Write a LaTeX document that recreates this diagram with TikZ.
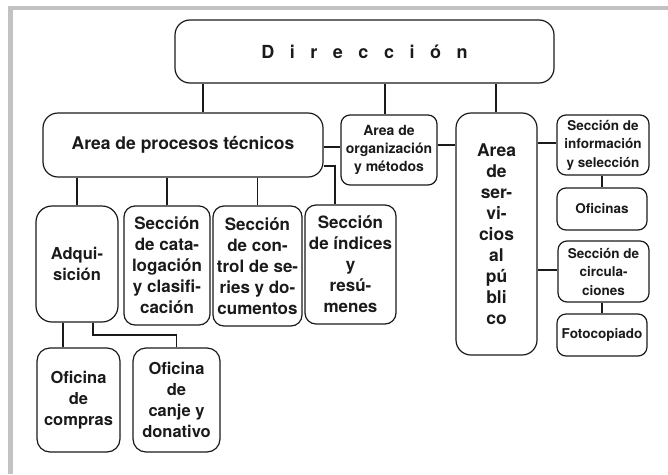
\documentclass[tikz,border=0pt]{standalone}
\usepackage{fontspec}
\setmainfont{TeX Gyre Heros}
\usetikzlibrary{positioning}
\definecolor{orgInk}{HTML}{1A1A1A}
\definecolor{orgFrame}{HTML}{C2C2C2}
\newcommand\dirsp{\hspace{15.5pt}}
\tikzset{
  orgbox/.style={rectangle,draw=orgInk,line width=1.2pt,rounded corners=11pt,
    inner sep=1pt,align=center,text=orgInk},
  orghead/.style={orgbox,rounded corners=15pt,minimum width=379pt,minimum height=63pt,
    font=\fontsize{18}{22}\selectfont\bfseries},
  orgarea/.style={orgbox,rounded corners=15pt,font=\fontsize{17.5}{21}\selectfont\bfseries},
  orgsect/.style={orgbox,font=\fontsize{17}{21}\selectfont\bfseries},
  orgoffice/.style={orgbox,rounded corners=13pt,font=\fontsize{16.5}{21}\selectfont\bfseries},
  orgsmall/.style={orgbox,rounded corners=9pt,font=\fontsize{13.5}{18.5}\selectfont\bfseries},
  link/.style={draw=orgInk,line width=1.2pt}
}

\begin{document}
\begin{tikzpicture}[x=1pt,y=-1pt]
  \useasboundingbox (0,0) rectangle (668,474);
  \fill[orgFrame] (8,6) rectangle (668,10);
  \fill[orgFrame] (8,6) rectangle (13,474);

  \node[orghead] (dir) at (364.5,51.5) {D\dirsp i\dirsp r\dirsp e\dirsp c\dirsp c\dirsp i\dirsp ó\dirsp n};
  \node[orgarea, minimum width=280pt, minimum height=64pt] (proc) at (183,145) {Area de procesos técnicos};
  \node[orgsmall, font=\fontsize{14}{18}\selectfont\bfseries, minimum width=96pt, minimum height=70pt] (org) at (389,150) {Area de\\organización\\y métodos};
  \node[orgarea, minimum width=81pt, minimum height=242pt] (serv) at (496.5,234) {Area\\de\\ser-\\vi-\\cios\\al\\pú\\bli\\co};
  \node[orgsmall, minimum width=92pt, minimum height=60pt] (info) at (603,145) {Sección de\\información\\y selección};
  \node[orgsmall, minimum width=90pt, minimum height=42pt] (ofic) at (602,209) {Oficinas};
  \node[orgsmall, minimum width=91pt, minimum height=61pt] (circ) at (603.5,271.5) {Sección de\\circula-\\ciones};
  \node[orgsmall, minimum width=90pt, minimum height=42pt] (foto) at (602,335) {Fotocopiado};

  \node[orgsect, rounded corners=16pt, font=\fontsize{16.5}{21}\selectfont\bfseries, minimum width=82pt, minimum height=116pt] (adq) at (77,264) {Adqui-\\sición};
  \node[orgsect, minimum width=86pt, minimum height=119pt] (cat) at (167,265.5) {Sección\\de cata-\\logación\\y clasifi-\\cación};
  \node[orgsect, minimum width=89pt, minimum height=120pt] (ctl) at (257.5,266) {Sección\\de con-\\trol de se-\\ries y do-\\cumentos};
  \node[orgsect, minimum width=91pt, minimum height=119pt] (idx) at (350.5,264.5) {Sección\\de índices\\y\\resú-\\menes};
  \node[orgoffice, minimum width=83pt, minimum height=104pt] (comp) at (78.5,400) {Oficina\\de\\compras};
  \node[orgoffice, minimum width=87pt, minimum height=104pt] (canje) at (176.5,400) {Oficina\\de\\canje y\\donativo};

  % Direccion to the three areas
  \draw[link] (203,0 |- dir.south) -- (203,0 |- proc.north);
  \draw[link] (385,0 |- dir.south) -- (385,0 |- org.north);
  \draw[link] (496,0 |- dir.south) -- (496,0 |- serv.north);
  % side links
  \draw[link] (proc.east |- 0,147) -- (org.west |- 0,147);
  \draw[link] (proc.east |- 0,166) -| (335,0 |- idx.north);
  \draw[link] (org.east |- 0,145) -- (serv.west |- 0,145);
  \draw[link] (serv.east |- 0,143) -- (info.west |- 0,143);
  \draw[link] (serv.east |- 0,270) -- (circ.west |- 0,270);
  \draw[link] (info.south -| ofic.north) -- (ofic.north);
  \draw[link] (circ.south -| foto.north) -- (foto.north);
  % technical sections
  \draw[link] (adq.north |- proc.south) -- (adq.north);
  \draw[link] (cat.north |- proc.south) -- (cat.north);
  \draw[link] (ctl.north |- proc.south) -- (ctl.north);
  % offices
  \draw[link] (63,0 |- adq.south) -- (63,0 |- comp.north);
  \draw[link] (93,0 |- adq.south) |- (0,335 -| canje.north) -- (canje.north);
\end{tikzpicture}
\end{document}
